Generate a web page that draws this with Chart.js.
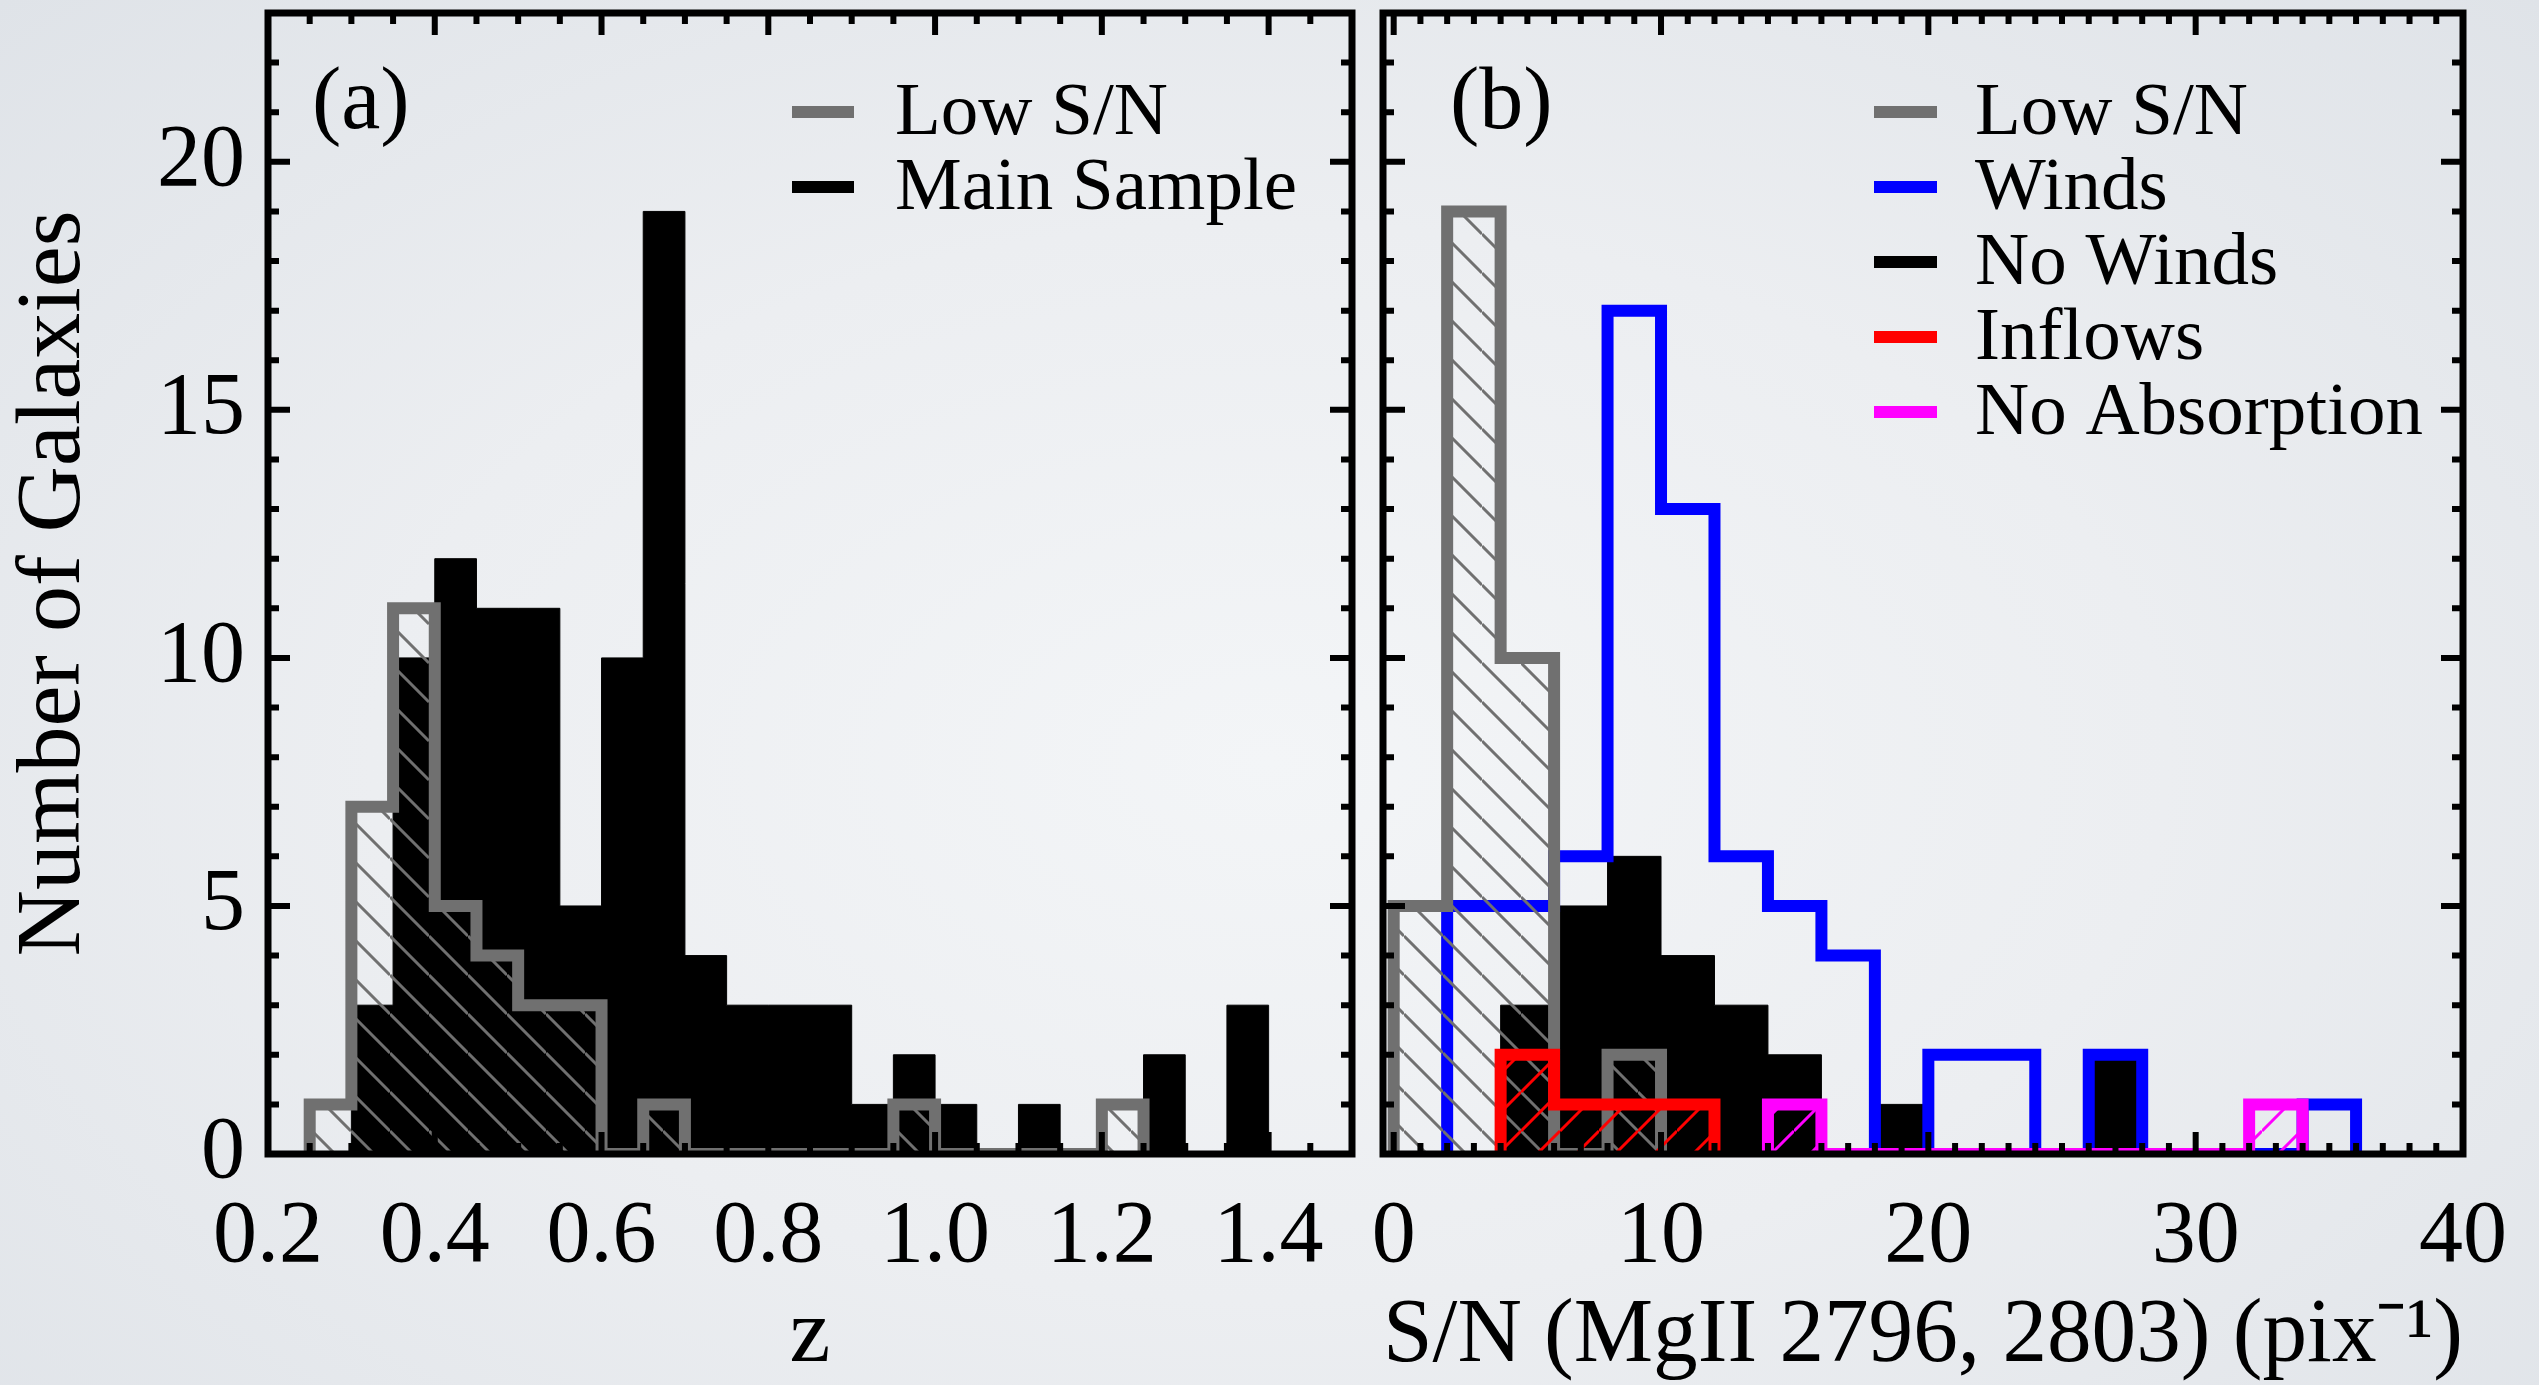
<!DOCTYPE html>
<html>
<head>
<meta charset="utf-8">
<title>Number of Galaxies vs z and S/N</title>
<script src="https://cdn.jsdelivr.net/npm/chart.js@4.4.1/dist/chart.umd.min.js"></script>
<style>
  html, body { margin: 0; padding: 0; }
  body {
    width: 2539px; height: 1385px; overflow: hidden; position: relative;
    background: radial-gradient(ellipse at 50% 55%, #f3f5f7 0%, #eceef1 50%, #dfe3e8 100%);
  }
  canvas { position: absolute; left: 0; top: 0; }
</style>
</head>
<body>
<canvas id="chartZ" width="2539" height="1385"></canvas>
<canvas id="chartSN" width="2539" height="1385"></canvas>
<script>
// panel (a): redshift bins, width 0.05 (left edges + last right edge)
const zEdges = [0.20, 0.25, 0.30, 0.35, 0.40, 0.45, 0.50, 0.55, 0.60, 0.65, 0.70, 0.75, 0.80,
                0.85, 0.90, 0.95, 1.00, 1.05, 1.10, 1.15, 1.20, 1.25, 1.30, 1.35, 1.40, 1.45, 1.50];
const zLowSN = [0, 1, 7, 11, 5, 4, 3, 3, 0, 1, 0, 0, 0, 0, 0, 1, 0, 0, 0, 0, 1, 0, 0, 0, 0, 0];
const zMain  = [0, 0, 3, 10, 12, 11, 11, 5, 10, 19, 4, 3, 3, 3, 1, 2, 1, 0, 1, 0, 0, 2, 0, 3, 0, 0];

// panel (b): S/N bins, width 2
const snEdges = [0, 2, 4, 6, 8, 10, 12, 14, 16, 18, 20, 22, 24, 26, 28, 30, 32, 34, 36, 38, 40];
const snLowSN    = [5, 19, 10, 0, 2, 0, 0, 0, 0, 0, 0, 0, 0, 0, 0, 0, 0, 0, 0, 0];
const snWinds    = [0, 5, 5, 6, 17, 13, 6, 5, 4, 0, 2, 2, 0, 2, 0, 0, 0, 1, 0, 0];
const snNoWinds  = [0, 0, 3, 5, 6, 4, 3, 2, 0, 1, 0, 0, 0, 2, 0, 0, 0, 0, 0, 0];
const snInflows  = [0, 0, 2, 1, 1, 1, 0, 0, 0, 0, 0, 0, 0, 0, 0, 0, 0, 0, 0, 0];
const snNoAbs    = [0, 0, 0, 0, 0, 0, 0, 1, 0, 0, 0, 0, 0, 0, 0, 0, 1, 0, 0, 0];

const SERIF = "'Liberation Serif', 'Times New Roman', serif";
const GRAY = '#707070';

Chart.defaults.font.family = SERIF;
Chart.defaults.color = '#000';

// hatch fill
function hatch(color, dir) {
  const s = 39;
  const c = document.createElement('canvas');
  c.width = s; c.height = s;
  const g = c.getContext('2d');
  g.strokeStyle = color;
  g.lineWidth = 3;
  g.beginPath();
  for (let k = -1; k <= 2; k++) {
    if (dir === 'down') { g.moveTo(0, k * s); g.lineTo(s, k * s + s); }
    else { g.moveTo(0, k * s); g.lineTo(s, k * s - s); }
  }
  g.stroke();
  return g.createPattern(c, 'repeat');
}

// histogram outline points (stepped)
function steps(edges, counts) {
  const first = counts.findIndex(c => c > 0);
  let last = counts.length - 1;
  while (last > 0 && counts[last] === 0) last--;
  const pts = [{x: edges[first], y: 0}];
  for (let i = first; i <= last; i++) pts.push({x: edges[i], y: counts[i]});
  pts.push({x: edges[last + 1], y: 0});
  return pts;
}

function outline(label, pts, color, pattern, order) {
  return {
    label: label, data: pts, stepped: 'before', order: order,
    borderColor: color, borderWidth: 12,
    borderJoinStyle: 'miter', borderCapStyle: 'butt',
    pointRadius: 0, pointHoverRadius: 0,
    fill: pattern ? 'origin' : false,
    backgroundColor: pattern || 'rgba(0,0,0,0)'
  };
}

function solid(label, pts, order) {
  return {
    label: label, data: pts, stepped: 'before', order: order,
    borderColor: '#000', borderWidth: 1,
    pointRadius: 0, pointHoverRadius: 0,
    fill: 'origin', backgroundColor: '#000'
  };
}

function eachTick(min, max, minor, major, fn) {
  for (let k = Math.ceil(min / minor - 1e-6); k * minor <= max + 1e-6; k++) {
    const v = k * minor;
    const r = v / major;
    fn(v, Math.abs(r - Math.round(r)) < 1e-6);
  }
}

// box frame with inward ticks on all sides
const framePlugin = {
  id: 'frame',
  afterDatasetsDraw(chart, args, o) {
    const ctx = chart.ctx, a = chart.chartArea;
    const xs = chart.scales.x, ys = chart.scales.y;
    ctx.save();
    ctx.strokeStyle = '#000';
    ctx.lineWidth = 6;
    ctx.beginPath();
    eachTick(xs.min, xs.max, o.xMinor, o.xMajor, function(v, major) {
      const p = xs.getPixelForValue(v);
      const len = major ? 22 : 11;
      ctx.moveTo(p, a.bottom); ctx.lineTo(p, a.bottom - len);
      ctx.moveTo(p, a.top); ctx.lineTo(p, a.top + len);
    });
    eachTick(ys.min, ys.max, o.yMinor, o.yMajor, function(v, major) {
      const p = ys.getPixelForValue(v);
      const len = major ? 22 : 11;
      ctx.moveTo(a.left, p); ctx.lineTo(a.left + len, p);
      ctx.moveTo(a.right, p); ctx.lineTo(a.right - len, p);
    });
    ctx.stroke();
    ctx.lineWidth = 7;
    ctx.strokeRect(a.left, a.top, a.right - a.left, a.bottom - a.top);
    ctx.restore();
  }
};

// panel tag + legend
const keyPlugin = {
  id: 'keys',
  afterDraw(chart, args, o) {
    const ctx = chart.ctx;
    ctx.save();
    ctx.fillStyle = '#000';
    ctx.textBaseline = 'alphabetic';
    ctx.font = '88px ' + SERIF;
    ctx.fillText(o.tag, o.tagX, o.tagY);
    ctx.font = '75px ' + SERIF;
    chart.data.datasets.forEach(function(ds, i) {
      const y = o.y + i * o.dy;
      ctx.strokeStyle = ds.borderColor;
      ctx.lineWidth = 12;
      ctx.beginPath();
      ctx.moveTo(o.x, y);
      ctx.lineTo(o.x + o.len, y);
      ctx.stroke();
      ctx.fillText(ds.label, o.textX, y + 22);
    });
    ctx.restore();
  }
};

function xAxis(min, max, step, fmt, title, height) {
  return {
    type: 'linear', min: min, max: max,
    afterFit: function(s) { s.height = height; s.paddingLeft = 0; s.paddingRight = 0; },
    grid: { display: false, drawTicks: false },
    border: { display: false },
    ticks: {
      stepSize: step, includeBounds: false, autoSkip: false, maxRotation: 0,
      padding: 31, font: { size: 88 }, color: '#000', callback: fmt
    },
    title: {
      display: true, text: title, color: '#000',
      font: { size: 92, lineHeight: 1 }, padding: { top: 0, bottom: 2 }
    }
  };
}

function yAxis(width, labels) {
  return {
    type: 'linear', min: 0, max: 23,
    afterFit: function(s) { s.width = width; s.paddingTop = 0; s.paddingBottom = 0; },
    grid: { display: false, drawTicks: false },
    border: { display: false },
    ticks: { display: labels, stepSize: 5, includeBounds: false, padding: 23, font: { size: 88 }, color: '#000' },
    title: {
      display: labels, text: 'Number of Galaxies', color: '#000',
      font: { size: 92, lineHeight: 1 }, padding: { top: 9, bottom: 0 }
    }
  };
}

// (a) redshift
new Chart('chartZ', {
  type: 'line',
  data: {
    datasets: [
      outline('Low S/N', steps(zEdges, zLowSN), GRAY, hatch(GRAY, 'down'), 0),
      solid('Main Sample', steps(zEdges, zMain), 1)
    ]
  },
  options: {
    responsive: false, animation: false, events: [],
    layout: { padding: { left: 0, top: 13, right: 2539 - 1352, bottom: 0 } },
    plugins: {
      legend: { display: false }, tooltip: { enabled: false },
      frame: { xMajor: 0.2, xMinor: 0.05, yMajor: 5, yMinor: 1 },
      keys: { tag: '(a)', tagX: 312, tagY: 128, x: 792, len: 62, textX: 895, y: 112, dy: 75 }
    },
    scales: {
      x: xAxis(0.2, 1.5, 0.2, function(v) { return Number(v).toFixed(1); }, 'z', 231),
      y: yAxis(268, true)
    }
  },
  plugins: [framePlugin, keyPlugin]
});

// (b) S/N
new Chart('chartSN', {
  type: 'line',
  data: {
    datasets: [
      outline('Low S/N', steps(snEdges, snLowSN), GRAY, hatch(GRAY, 'down'), 2),
      outline('Winds', steps(snEdges, snWinds), '#0000ff', null, 3),
      solid('No Winds', steps(snEdges, snNoWinds), 4),
      outline('Inflows', steps(snEdges, snInflows), '#ff0000', hatch('#ff0000', 'up'), 1),
      outline('No Absorption', steps(snEdges, snNoAbs), '#ff00ff', hatch('#ff00ff', 'up'), 0)
    ]
  },
  options: {
    responsive: false, animation: false, events: [],
    layout: { padding: { left: 0, top: 13, right: 2539 - 2463, bottom: 0 } },
    plugins: {
      legend: { display: false }, tooltip: { enabled: false },
      frame: { xMajor: 10, xMinor: 1, yMajor: 5, yMinor: 1 },
      keys: { tag: '(b)', tagX: 1450, tagY: 128, x: 1874, len: 63, textX: 1975, y: 112, dy: 75 }
    },
    scales: {
      x: xAxis(-0.4, 40, 10, function(v) { return String(v); }, 'S/N (MgII 2796, 2803) (pix\u207B\u00B9)', 231),
      y: yAxis(1383, false)
    }
  },
  plugins: [framePlugin, keyPlugin]
});
</script>
</body>
</html>
